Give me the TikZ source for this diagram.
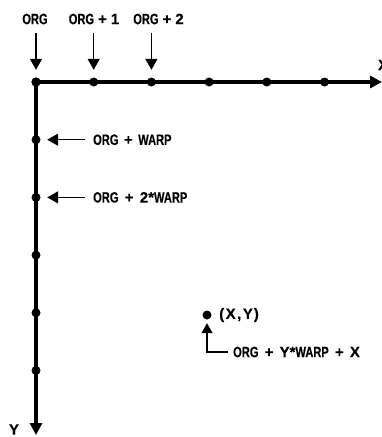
\documentclass[tikz,border=0pt]{standalone}
\usepackage{fontspec}
\setmainfont[BoldFeatures={FakeBold=0.2}]{Liberation Sans}
\usetikzlibrary{arrows.meta}
\newcommand{\cs}[1]{\scalebox{0.74}[1]{#1}}
\newcommand{\gap}[1]{\hspace*{#1pt}}
\begin{document}
\begin{tikzpicture}[x=1pt,y=-1pt,
  dot/.style={circle,fill=black,inner sep=0pt,minimum size=9pt},
  lbl/.style={inner sep=0pt,font=\fontsize{15}{16}\selectfont\bfseries},
  axis/.style={line width=3.2pt,-{Triangle[length=12pt,width=12pt]}},
  ptr/.style={line width=1.4pt,-{Triangle[length=11pt,width=12pt]}}]
\useasboundingbox (0,0) rectangle (382,437);
% axes
\coordinate (xend) at (382,82);
\coordinate (yend) at (36,435);
\node[dot] (d0) at (36,82) {};
\draw[axis] (d0.center) -- (xend);
\draw[axis] (d0.center) -- (yend);
% dots on x axis
\node[dot] (d0) at (36,82) {};
\node[dot] (d1) at (93.7,82) {};
\node[dot] (d2) at (151.4,82) {};
\node[dot] (d3) at (209.1,82) {};
\node[dot] (d4) at (266.8,82) {};
\node[dot] (d5) at (324.5,82) {};
% dots on y axis
\node[dot] (v1) at (36,139.7) {};
\node[dot] (v2) at (36,197.4) {};
\node[dot] (v3) at (36,255.1) {};
\node[dot] (v4) at (36,312.8) {};
\node[dot] (v5) at (36,370.5) {};
% axis labels
\node[lbl] (xl) at (383,65) {X};
\node[lbl] (yl) at (14,429.5) {Y};
% top labels
\node[lbl] (t0) at (35,19) {\cs{ORG}};
\node[lbl] (t1) at (94,19) {\cs{ORG}\gap{4}+\gap{4}1};
\node[lbl] (t2) at (158.5,19) {\cs{ORG}\gap{4}+\gap{4}2};
\draw[ptr,shorten <=8pt,shorten >=7.5pt] (t0.south -| d0) -- (d0.north);
\draw[ptr,shorten <=8pt,shorten >=7.5pt] (t1.south -| d1) -- (d1.north);
\draw[ptr,shorten <=8pt,shorten >=7.5pt] (t2.south -| d2) -- (d2.north);
% left labels
\node[lbl,anchor=west] (w1) at (93,139.7) {\cs{ORG}\gap{5.5}+\gap{5.5}\cs{WARP}};
\node[lbl,anchor=west] (w2) at (93,197.4) {\cs{ORG}\gap{6.3}+\gap{6.3}2*\cs{WARP}};
\draw[ptr,shorten <=8pt,shorten >=6.5pt] (w1.west) -- (v1.east);
\draw[ptr,shorten <=8pt,shorten >=6.5pt] (w2.west) -- (v2.east);
% point (X,Y)
\node[dot] (p) at (207,315) {};
\node[lbl,anchor=west] (pl) at (219,315) {(\gap{1.5}X\gap{1.5},\gap{1.5}Y\gap{1})};
\node[lbl,anchor=west] (q) at (233,352) {\cs{ORG}\gap{6.2}+\gap{6.2}Y*\cs{WARP}\gap{6.2}+\gap{6.2}X};
\draw[line width=1.4pt,-{Triangle[length=10pt,width=11pt]},shorten <=5pt,shorten >=3.5pt] (q.west) -| (p.south);
\end{tikzpicture}
\end{document}
